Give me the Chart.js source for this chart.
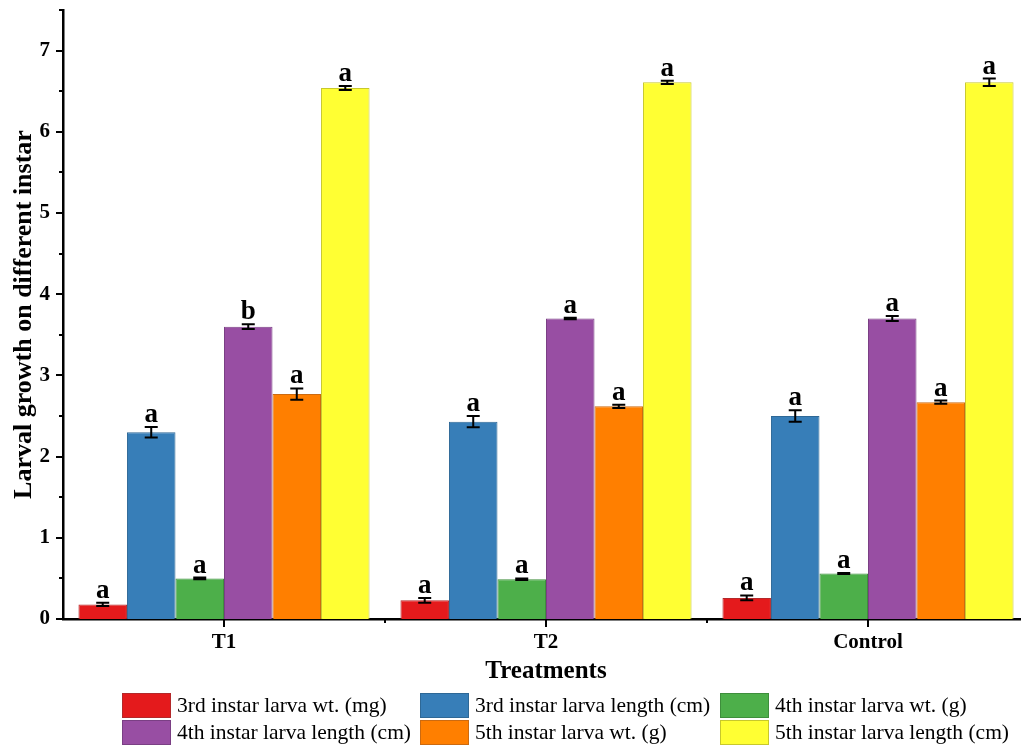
<!DOCTYPE html>
<html>
<head>
<meta charset="utf-8">
<script src="https://cdn.jsdelivr.net/npm/chart.js@4.4.1/dist/chart.umd.min.js"></script>
<style>
  html, body { margin: 0; padding: 0; overflow: hidden; background: #ffffff; }
  canvas { display: block; }
</style>
</head>
<body>
<canvas id="chart" width="1032" height="746"></canvas>
<script>
// Treatments on the category axis
const treatments = ['T1', 'T2', 'Control'];

// Series names
const seriesNames = [
  '3rd instar larva wt. (mg)',
  '3rd instar larva length (cm)',
  '4th instar larva wt. (g)',
  '4th instar larva length (cm)',
  '5th instar larva wt. (g)',
  '5th instar larva length (cm)'
];

// Means per treatment
const wt3rd   = [0.18, 0.23, 0.26];
const len3rd  = [2.30, 2.43, 2.50];
const wt4th   = [0.50, 0.49, 0.56];
const len4th  = [3.60, 3.70, 3.70];
const wt5th   = [2.77, 2.62, 2.67];
const len5th  = [6.54, 6.61, 6.61];

// Standard errors
const wt3rdErr  = [0.02, 0.03, 0.03];
const len3rdErr = [0.065, 0.07, 0.07];
const wt4thErr  = [0.01, 0.01, 0.005];
const len4thErr = [0.03, 0.01, 0.03];
const wt5thErr  = [0.07, 0.02, 0.02];
const len5thErr = [0.025, 0.02, 0.045];

// Significance letters
const wt3rdSig  = ['a', 'a', 'a'];
const len3rdSig = ['a', 'a', 'a'];
const wt4thSig  = ['a', 'a', 'a'];
const len4thSig = ['b', 'a', 'a'];
const wt5thSig  = ['a', 'a', 'a'];
const len5thSig = ['a', 'a', 'a'];

// Y axis tick labels
const yTickValues = [0, 1, 2, 3, 4, 5, 6, 7];

const values  = [wt3rd, len3rd, wt4th, len4th, wt5th, len5th];
const errors  = [wt3rdErr, len3rdErr, wt4thErr, len4thErr, wt5thErr, len5thErr];
const letters = [wt3rdSig, len3rdSig, wt4thSig, len4thSig, wt5thSig, len5thSig];

const fills   = ['#E41A1C', '#377EB8', '#4DAF4A', '#984EA3', '#FF7F00', '#FFFF33'];
const borders = ['#B3282A', '#2E6896', '#3E8E3C', '#7A3F84', '#CC6A10', '#C8C82C'];

const SERIF = '"Liberation Serif", "Times New Roman", serif';

// Error bars and letters above each bar
const errorBarPlugin = {
  id: 'errorBars',
  afterDatasetsDraw(chart) {
    const { ctx } = chart;
    const y = chart.scales.y;
    ctx.save();
    ctx.strokeStyle = '#000';
    ctx.lineWidth = 2;
    ctx.fillStyle = '#000';
    ctx.font = 'bold 27px ' + SERIF;
    ctx.textAlign = 'center';
    ctx.textBaseline = 'alphabetic';
    values.forEach((series, d) => {
      const meta = chart.getDatasetMeta(d);
      series.forEach((v, i) => {
        const bar = meta.data[i];
        const cx = bar.x;
        const e = errors[d][i];
        const yHi = y.getPixelForValue(v + e);
        const yLo = y.getPixelForValue(v - e);
        const cap = 6.5;
        ctx.beginPath();
        ctx.moveTo(cx, yHi); ctx.lineTo(cx, yLo);
        ctx.moveTo(cx - cap, yHi); ctx.lineTo(cx + cap, yHi);
        ctx.moveTo(cx - cap, yLo); ctx.lineTo(cx + cap, yLo);
        ctx.stroke();
        ctx.fillText(letters[d][i], cx, yHi - 5);
      });
    });
    ctx.restore();
  }
};

// Outward tick marks on both axes
const axisTicksPlugin = {
  id: 'axisTicks',
  afterDraw(chart) {
    const { ctx, chartArea } = chart;
    const x = chart.scales.x, y = chart.scales.y;
    ctx.save();
    ctx.strokeStyle = '#000';
    ctx.lineWidth = 2;
    ctx.beginPath();
    for (let v = 0; v <= 7.5; v += 0.5) {
      const py = Math.round(y.getPixelForValue(v));
      const len = Number.isInteger(v) ? 7 : 4;
      ctx.moveTo(chartArea.left - len, py);
      ctx.lineTo(chartArea.left, py);
    }
    treatments.forEach((t, i) => {
      const px = Math.round(x.getPixelForValue(i));
      ctx.moveTo(px, chartArea.bottom);
      ctx.lineTo(px, chartArea.bottom + 8);
      if (i > 0) {
        const bx = Math.round((x.getPixelForValue(i - 1) + x.getPixelForValue(i)) / 2);
        ctx.moveTo(bx, chartArea.bottom);
        ctx.lineTo(bx, chartArea.bottom + 4);
      }
    });
    ctx.stroke();
    ctx.restore();
  }
};

// Legend in three columns, two rows
const legendPlugin = {
  id: 'gridLegend',
  afterDraw(chart) {
    const { ctx } = chart;
    const colX = [122, 420, 720];
    const rowY = [693, 720];
    const sw = 49, sh = 25;
    ctx.save();
    ctx.font = '21.5px ' + SERIF;
    ctx.textBaseline = 'middle';
    ctx.textAlign = 'left';
    seriesNames.forEach((name, k) => {
      const cx = colX[k % 3];
      const cy = rowY[Math.floor(k / 3)];
      ctx.fillStyle = fills[k];
      ctx.fillRect(cx, cy, sw, sh);
      ctx.strokeStyle = borders[k];
      ctx.lineWidth = 1;
      ctx.strokeRect(cx + 0.5, cy + 0.5, sw - 1, sh - 1);
      ctx.fillStyle = '#000';
      ctx.fillText(name, cx + sw + 6, cy + sh / 2 + 1);
    });
    ctx.restore();
  }
};

const datasets = seriesNames.map((name, d) => ({
  label: name,
  data: values[d],
  backgroundColor: fills[d],
  borderColor: borders[d],
  borderWidth: 1,
  categoryPercentage: 0.904,
  barPercentage: 1.0
}));

new Chart(document.getElementById('chart'), {
  type: 'bar',
  data: { labels: treatments, datasets },
  plugins: [errorBarPlugin, axisTicksPlugin, legendPlugin],
  options: {
    responsive: false,
    animation: false,
    events: [],
    layout: { padding: { top: 10, right: 3, bottom: 56, left: 0 } },
    plugins: { legend: { display: false }, tooltip: { enabled: false } },
    scales: {
      x: {
        grid: { display: false, drawTicks: false },
        border: { display: true, color: '#000', width: 2.5 },
        ticks: {
          color: '#000',
          padding: 11,
          font: { family: SERIF, size: 21, weight: 'bold' }
        },
        title: {
          display: true,
          text: 'Treatments',
          color: '#000',
          padding: { top: 0, bottom: 3 },
          font: { family: SERIF, size: 25, weight: 'bold' }
        },
        afterFit(scale) {
          scale.height = 71;
          scale.paddingLeft = 0;
          scale.paddingRight = 0;
        }
      },
      y: {
        min: 0,
        max: 7.5,
        grid: { display: false, drawTicks: false },
        border: { display: true, color: '#000', width: 2.5 },
        afterBuildTicks(scale) { scale.ticks = yTickValues.map(v => ({ value: v })); },
        ticks: {
          color: '#000',
          padding: 13,
          font: { family: SERIF, size: 21, weight: 'bold' }
        },
        title: {
          display: true,
          text: 'Larval growth on different instar',
          color: '#000',
          padding: { top: 9, bottom: 0 },
          font: { family: SERIF, size: 26, weight: 'bold' }
        },
        afterFit(scale) {
          scale.width = 63;
          scale.paddingTop = 0;
          scale.paddingBottom = 0;
        }
      }
    }
  }
});
</script>
</body>
</html>
